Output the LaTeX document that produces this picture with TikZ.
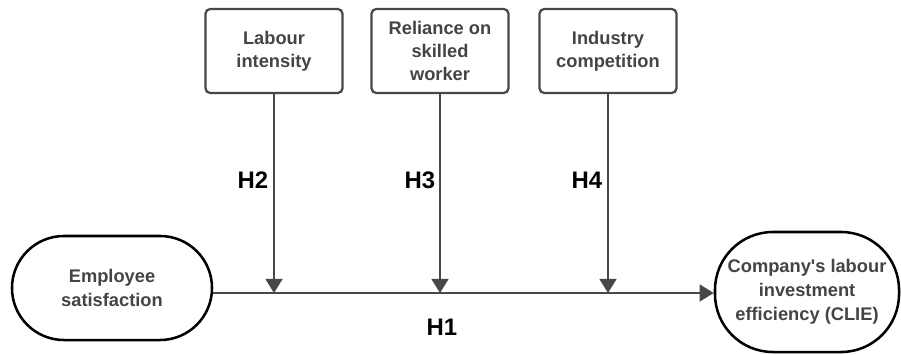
\documentclass[tikz,border=0pt]{standalone}
\usepackage{fontspec}
\setmainfont{Liberation Sans}[Ligatures=TeXOff]
\usepackage{xcolor}
\usetikzlibrary{arrows.meta}

\definecolor{linegray}{HTML}{474747}
\definecolor{textgray}{HTML}{444444}

\begin{document}
\begin{tikzpicture}[
    x=0.025cm, y=-0.025cm,
    oval/.style={rectangle, draw=black, line width=1.8pt, rounded corners=1.3cm, align=center,
                 text=textgray, font=\bfseries\fontsize{13}{17}\selectfont},
    modbox/.style={rectangle, draw=linegray, line width=1.6pt, rounded corners=0.12cm, align=center,
                   minimum width=3.425cm, minimum height=2.1cm, text=textgray,
                   font=\bfseries\fontsize{13}{16.5}\selectfont},
    hyp/.style={font=\bfseries\fontsize{17}{20}\selectfont, text=black},
    arrow/.style={-{Triangle[width=12pt,length=10pt]}, draw=linegray, line width=1.4pt}
]
    \useasboundingbox (0,0) rectangle (901,355);

    \node[oval, minimum width=5cm, minimum height=2.6cm] (es) at (112,288) {Employee\\satisfaction};
    \node[oval, minimum width=4.6cm, minimum height=3cm, rounded corners=1.45cm] (clie) at (807,292)
        {Company's labour\\investment\\efficiency (CLIE)};

    \node[modbox] (li) at (274,51) {Labour\\intensity};
    \node[modbox] (rs) at (440,51) {Reliance on\\skilled\\worker};
    \node[modbox] (ic) at (608,51) {Industry\\competition};

    \coordinate (m2) at (274,293);
    \coordinate (m3) at (440,293);
    \coordinate (m4) at (608,293);

    \draw[arrow] (es.east |- m2) -- (clie.west |- m2);
    \draw[arrow] (li) -- (m2);
    \draw[arrow] (rs) -- (m3);
    \draw[arrow] (ic) -- (m4);

    \node[hyp] (h1) at (442,327) {H1};
    \node[hyp] (h2) at (253,180) {H2};
    \node[hyp] (h3) at (420,180) {H3};
    \node[hyp] (h4) at (587,180) {H4};
\end{tikzpicture}
\end{document}
